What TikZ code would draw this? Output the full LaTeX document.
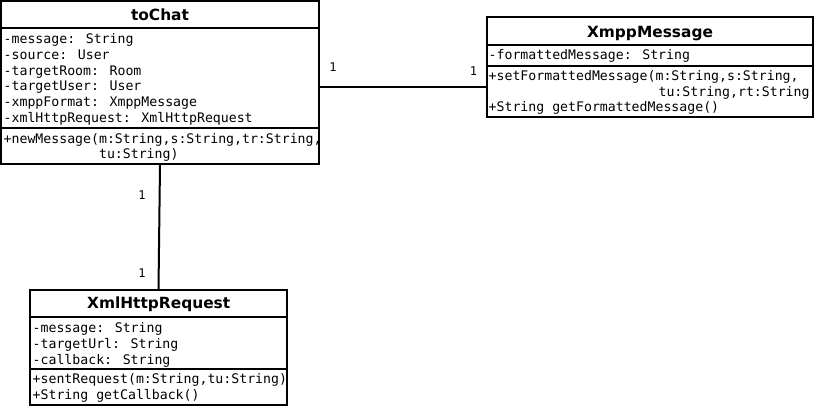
\documentclass[tikz,border=0pt]{standalone}
\usepackage{fontspec}
\setmainfont{DejaVu Sans}
\newfontfamily\umlmono{DejaVu Sans Mono}
\tikzset{
  classbox/.style={draw, line width=2bp, inner sep=0pt},
  sepline/.style={line width=2bp},
  assoc/.style={line width=2bp},
  classtitle/.style={anchor=base, inner sep=0pt, font=\fontsize{15.4bp}{18bp}\selectfont\bfseries},
  member/.style={anchor=base west, inner sep=0pt, font=\umlmono\fontsize{13.2bp}{16bp}\selectfont},
  mult/.style={anchor=base, inner sep=0pt, font=\umlmono\fontsize{12bp}{14bp}\selectfont},
}
\begin{document}
\begin{tikzpicture}[x=1bp,y=-1bp]
\useasboundingbox (0,0) rectangle (814,406);

% ---------- toChat texts
\node[classtitle] (tcT) at (160,20.5) {toChat};
\node[member] (tcA1) at (3.5,43.5) {-message: String};
\node[member] (tcA2) at (3.5,59.3) {-source: User};
\node[member] (tcA3) at (3.5,75.1) {-targetRoom: Room};
\node[member] (tcA4) at (3.5,90.9) {-targetUser: User};
\node[member] (tcA5) at (3.5,106.7) {-xmppFormat: XmppMessage};
\node[member] (tcA6) at (3.5,122.5) {-xmlHttpRequest: XmlHttpRequest};
\node[member] (tcM1) at (3.5,143) {+newMessage(m:String,s:String,tr:String,};
\node[member] (tcM2) at (3.5,158.8) {\phantom{+newMessage(}tu:String)};

% ---------- XmppMessage texts
\node[classtitle] (xmT) at (650,37) {XmppMessage};
\node[member] (xmA1) at (488.5,59.3) {-formattedMessage: String};
\node[member] (xmM1) at (488.5,80.7) {+setFormattedMessage(m:String,s:String,};
\node[member] (xmM2) at (491.5,96.2) {\phantom{+setFormattedMessage(}tu:String,rt:String};
\node[member] (xmM3) at (488.5,111.7) {+String getFormattedMessage()};

% ---------- XmlHttpRequest texts
\node[classtitle] (xhT) at (158.7,308.3) {XmlHttpRequest};
\node[member] (xhA1) at (32.5,332.3) {-message: String};
\node[member] (xhA2) at (32.5,348.2) {-targetUrl: String};
\node[member] (xhA3) at (32.5,364) {-callback: String};
\node[member] (xhM1) at (32.5,383.4) {+sentRequest(m:String,tu:String)};
\node[member] (xhM2) at (32.5,399.2) {+String getCallback()};

% ---------- class boxes
\node[classbox, minimum width=318bp, minimum height=163bp] (toChat) at (160,82.5) {};
\node[classbox, minimum width=326bp, minimum height=100bp] (xmpp) at (650,67) {};
\node[classbox, minimum width=257bp, minimum height=115bp] (xhr) at (158.5,347.5) {};

% ---------- compartment separators
\draw[sepline] (toChat.west |- 0,28) -- (toChat.east |- 0,28);
\draw[sepline] (toChat.west |- 0,128) -- (toChat.east |- 0,128);
\draw[sepline] (xmpp.west |- 0,45) -- (xmpp.east |- 0,45);
\draw[sepline] (xmpp.west |- 0,66) -- (xmpp.east |- 0,66);
\draw[sepline] (xhr.west |- 0,317) -- (xhr.east |- 0,317);
\draw[sepline] (xhr.west |- 0,369) -- (xhr.east |- 0,369);

% ---------- associations
\coordinate (h1) at ([yshift=-4.5bp]toChat.east);
\draw[assoc] (h1) -- (h1 -| xmpp.west);
\draw[assoc] (toChat.south) -- (xhr.north);

% ---------- multiplicities
\node[mult] (m1) at (333,71.7) {1};
\node[mult] (m2) at (473.5,75) {1};
\node[mult] (m3) at (142,199) {1};
\node[mult] (m4) at (142,277.7) {1};
\end{tikzpicture}
\end{document}
